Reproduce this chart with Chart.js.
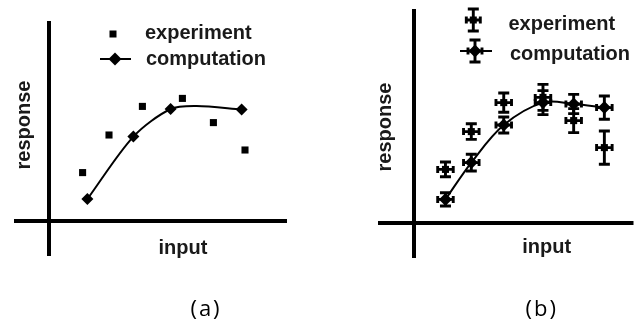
<!DOCTYPE html>
<html><head><meta charset="utf-8">
<script src="https://cdn.jsdelivr.net/npm/chart.js@4.4.1/dist/chart.umd.min.js"></script>
<style>
html,body{margin:0;padding:0;background:#fff;width:640px;height:329px;overflow:hidden}
canvas{position:absolute;top:0}
#ca{left:0}#cb{left:320px}
</style></head><body>
<canvas id="ca" width="320" height="329"></canvas>
<canvas id="cb" width="320" height="329"></canvas>
<script>
// ---------- data (arbitrary units) ----------
const seriesNames = ['experiment', 'computation'];
const axisTitleX = 'input';
const axisTitleY = 'response';
const panelLabels = ['(a)', '(b)'];

// panel (a)
const inputA_exp = [1.68, 3.0, 4.67, 6.67, 8.22, 9.8];
const responseA_exp = [2.42, 4.3, 5.73, 6.13, 4.92, 3.55];
const inputA_comp = [1.92, 4.22, 6.08, 7.38, 9.63];
const responseA_comp = [1.1, 4.22, 5.6, 5.75, 5.58];
const markerA_comp = [true, true, true, false, true];

// panel (b)
const inputB = [1.62, 2.95, 4.62, 6.64, 8.22, 9.8];
const responseB_exp = [2.68, 4.57, 6.02, 6.28, 5.12, 3.77];
const errB_exp = [0.37, 0.39, 0.48, 0.65, 0.6, 0.83];
const responseB_comp = [1.18, 3.02, 4.9, 6.02, 5.95, 5.77];
const errB_comp = [0.33, 0.42, 0.4, 0.6, 0.48, 0.58];
const errInput = 0.4;

// ---------- drawing helpers ----------
const INK = '#000';
const TXT = '#1a1a1a';
const FONT = 'bold 20px "Liberation Sans", Arial, sans-serif';
const BAR_W = 2.9;

function drawSquare(ctx, x, y, s) { ctx.fillRect(x - s / 2, y - s / 2, s, s); }
function drawDiamond(ctx, x, y, r) {
  ctx.beginPath(); ctx.moveTo(x - r, y); ctx.lineTo(x, y - r); ctx.lineTo(x + r, y); ctx.lineTo(x, y + r);
  ctx.closePath(); ctx.fill();
}
function drawCross(ctx, x, y, x1, x2, y1, y2, capW, capH) {
  ctx.beginPath();
  ctx.moveTo(x, y1); ctx.lineTo(x, y2);
  ctx.moveTo(x - capW, y1); ctx.lineTo(x + capW, y1);
  ctx.moveTo(x - capW, y2); ctx.lineTo(x + capW, y2);
  ctx.moveTo(x1, y); ctx.lineTo(x2, y);
  ctx.moveTo(x1, y - capH); ctx.lineTo(x1, y + capH);
  ctx.moveTo(x2, y - capH); ctx.lineTo(x2, y + capH);
  ctx.stroke();
}

const decor = {
  id: 'decor',
  beforeDatasetsDraw(chart, args, o) {
    const ctx = chart.ctx, ca = chart.chartArea;
    ctx.save();
    ctx.strokeStyle = INK; ctx.lineWidth = 4; ctx.lineCap = 'butt';
    ctx.beginPath();
    ctx.moveTo(ca.left, ca.top - o.axisTopExt); ctx.lineTo(ca.left, ca.bottom + o.axisBottomExt);
    ctx.moveTo(ca.left - o.axisLeftExt, ca.bottom); ctx.lineTo(ca.right + o.axisRightExt, ca.bottom);
    ctx.stroke();
    // error bars
    const xs = chart.scales.x, ys = chart.scales.y;
    ctx.lineWidth = BAR_W;
    chart.data.datasets.forEach((ds, i) => {
      if (!ds.errorY) return;
      const meta = chart.getDatasetMeta(i);
      ds.data.forEach((p, j) => {
        const el = meta.data[j];
        drawCross(ctx, el.x, el.y,
          xs.getPixelForValue(p.x - ds.errorX), xs.getPixelForValue(p.x + ds.errorX),
          ys.getPixelForValue(p.y + ds.errorY[j]), ys.getPixelForValue(p.y - ds.errorY[j]), 5.5, 3.5);
      });
    });
    ctx.restore();
  },
  afterDraw(chart, args, o) {
    const ctx = chart.ctx;
    ctx.save();
    ctx.fillStyle = TXT; ctx.font = FONT; ctx.textBaseline = 'alphabetic';
    // axis titles
    ctx.textAlign = 'center';
    ctx.fillText(axisTitleX, o.xTitle[0], o.xTitle[1]);
    ctx.save(); ctx.translate(o.yTitle[0], o.yTitle[1]); ctx.rotate(-Math.PI / 2);
    ctx.fillText(axisTitleY, 0, 0); ctx.restore();
    // legend
    ctx.textAlign = 'left';
    ctx.fillText(seriesNames[0], o.leg1Text[0], o.leg1Text[1]);
    ctx.fillText(seriesNames[1], o.leg2Text[0], o.leg2Text[1]);
    ctx.fillStyle = INK; ctx.strokeStyle = INK;
    const [ex, ey] = o.leg1Mark, [cx, cy] = o.leg2Mark;
    ctx.lineWidth = BAR_W;
    if (o.errorLegend) {
      drawCross(ctx, ex, ey, ex - 7, ex + 7, ey - 11, ey + 11, 5.5, 3.5);
      drawSquare(ctx, ex, ey, 7);
    } else {
      drawSquare(ctx, ex, ey, 7);
    }
    ctx.lineWidth = 2;
    ctx.beginPath(); ctx.moveTo(o.leg2Line[0], cy); ctx.lineTo(o.leg2Line[1], cy); ctx.stroke();
    if (o.errorLegend) {
      ctx.lineWidth = BAR_W;
      drawCross(ctx, cx, cy, cx - 7, cx + 7, cy - 11, cy + 11, 5.5, 3.5);
    }
    drawDiamond(ctx, cx, cy, 6.5);
    // panel label
    ctx.fillStyle = '#000';
    ctx.font = '22px "Open Sans", "Noto Sans", sans-serif';
    ctx.textAlign = 'center';
    if ('letterSpacing' in ctx) ctx.letterSpacing = '2px';
    ctx.fillText(o.label, o.labelPos[0], o.labelPos[1]);
    ctx.restore();
  }
};

const pts = (xs, ys) => xs.map((x, i) => ({x, y: ys[i]}));

function baseOptions(xmax, padding, decorOpts) {
  return {
    responsive: false, animation: false, devicePixelRatio: 1,
    layout: {padding},
    scales: {
      x: {type: 'linear', min: 0, max: xmax, display: false},
      y: {type: 'linear', min: 0, max: 10, display: false}
    },
    plugins: {legend: {display: false}, tooltip: {enabled: false}, decor: decorOpts},
    events: []
  };
}

// ---------- panel (a) ----------
new Chart(document.getElementById('ca'), {
  type: 'scatter',
  data: {
    datasets: [
      {label: seriesNames[0], data: pts(inputA_exp, responseA_exp), pointStyle: 'rect',
       pointRadius: 5, backgroundColor: INK, borderColor: INK, borderWidth: 0, clip: false},
      {label: seriesNames[1], type: 'line', data: pts(inputA_comp, responseA_comp), showLine: true,
       borderColor: INK, borderWidth: 2, tension: 0.3, fill: false,
       pointStyle: 'rectRot', pointRadius: markerA_comp.map(m => m ? 6 : 0),
       pointBackgroundColor: INK, pointBorderColor: INK, pointBorderWidth: 0, clip: false}
    ]
  },
  options: baseOptions(12, {left: 49, right: 31, top: 21, bottom: 108}, {
    axisTopExt: 0, axisBottomExt: 35, axisLeftExt: 35, axisRightExt: -2,
    xTitle: [183, 254], yTitle: [30, 125],
    leg1Text: [145, 39], leg2Text: [146, 65], leg1Mark: [113, 34], leg2Mark: [115, 59], leg2Line: [100, 131],
    errorLegend: false, label: panelLabels[0], labelPos: [206, 316]
  }),
  plugins: [decor]
});

// ---------- panel (b) ----------
new Chart(document.getElementById('cb'), {
  type: 'scatter',
  data: {
    datasets: [
      {label: seriesNames[0], data: pts(inputB, responseB_exp), errorY: errB_exp, errorX: errInput,
       pointStyle: 'rect', pointRadius: 5, backgroundColor: INK, borderColor: INK, borderWidth: 0, clip: false},
      {label: seriesNames[1], type: 'line', data: pts(inputB, responseB_comp), errorY: errB_comp, errorX: errInput,
       showLine: true, borderColor: INK, borderWidth: 2, tension: 0.35, fill: false,
       pointStyle: 'rectRot', pointRadius: 6.5, pointBackgroundColor: INK, pointBorderColor: INK,
       pointBorderWidth: 0, clip: false}
    ]
  },
  options: baseOptions(11.3, {left: 94, right: 0, top: 23, bottom: 106}, {
    axisTopExt: 14, axisBottomExt: 35, axisLeftExt: 36, axisRightExt: 0,
    xTitle: [226.7, 253], yTitle: [70.5, 127],
    leg1Text: [188.5, 30], leg2Text: [190, 60], leg1Mark: [153.3, 20], leg2Mark: [155, 51], leg2Line: [140, 172],
    errorLegend: true, label: panelLabels[1], labelPos: [221.7, 316]
  }),
  plugins: [decor]
});
</script>
</body></html>
